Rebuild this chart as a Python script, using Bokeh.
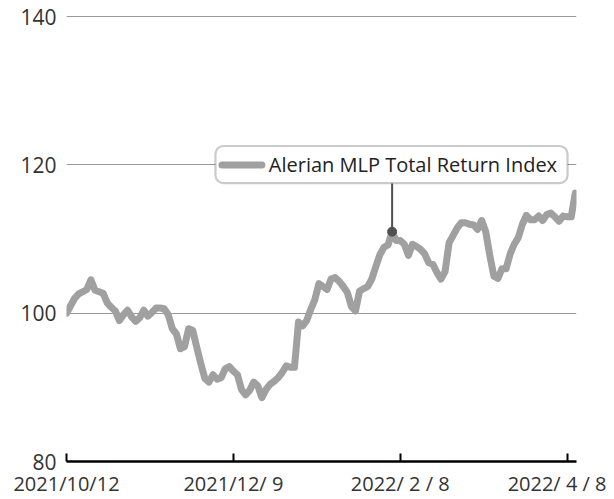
from bokeh.plotting import figure
from bokeh.models import FixedTicker, BoxAnnotation, Label, Range1d
from bokeh.embed import file_html
from bokeh.resources import INLINE

# ---- data ----
series_name = "Alerian MLP Total Return Index"
values = [
    100.0, 101.0, 102.0, 102.6, 102.9, 103.2, 104.5, 103.1, 102.9, 102.7,
    101.4, 100.8, 100.3, 99.0, 99.8, 100.4, 99.5, 98.9, 99.4, 100.4,
    99.6, 100.1, 100.7, 100.7, 100.6, 99.8, 97.9, 97.2, 95.2, 95.5,
    97.9, 97.7, 95.4, 93.2, 91.2, 90.7, 91.7, 91.1, 91.3, 92.5,
    92.8, 92.2, 91.7, 89.7, 89.0, 89.6, 90.7, 90.2, 88.6, 89.7,
    90.4, 90.8, 91.3, 92.0, 92.9, 92.7, 92.7, 98.8, 98.3, 99.0,
    100.5, 101.8, 104.0, 103.6, 103.2, 104.6, 104.8, 104.3, 103.6, 102.8,
    100.9, 100.3, 103.0, 103.3, 103.6, 104.6, 106.3, 107.9, 108.9, 109.2,
    111.0, 109.8, 109.8, 109.3, 107.8, 109.3, 109.0, 108.6, 108.0, 106.8,
    106.6, 105.5, 104.6, 105.6, 109.5, 110.5, 111.5, 112.2, 112.2, 112.0,
    111.9, 111.3, 112.5, 111.0, 107.8, 105.0, 104.7, 106.0, 106.0, 108.0,
    109.3, 110.2, 112.0, 113.2, 112.6, 112.6, 113.1, 112.5, 113.3, 113.5,
    113.0, 112.4, 113.1, 113.0, 113.0, 116.2,
]
x_index = list(range(len(values)))
tick_index = [0, 41, 82, 123]
tick_labels = ["2021/10/12", "2021/12/ 9", "2022/ 2 / 8", "2022/ 4 / 8"]
y_ticks = [80, 100, 120, 140]
callout_index = 80

FONT = "Open Sans"
LINE_COLOR = "#a0a0a0"
TEXT_COLOR = "#333333"
BORDER = "#505050"

p = figure(width=606, height=499, output_backend="svg", toolbar_location=None,
           x_range=Range1d(0, 125.3), y_range=Range1d(80, 140.15),
           min_border_left=66, min_border_right=30, min_border_top=15,
           min_border_bottom=36)
p.outline_line_color = None
p.background_fill_color = "white"
p.border_fill_color = "white"

p.line(x_index, values, line_color=LINE_COLOR, line_width=7, line_join="round", line_cap="round")

# axes
xa = p.xaxis[0]
xa.ticker = FixedTicker(ticks=tick_index)
xa.major_label_overrides = {i: t for i, t in zip(tick_index, tick_labels)}
xa.axis_line_color = "black"
xa.axis_line_width = 2.5
xa.major_tick_line_color = "black"
xa.major_tick_line_width = 2
xa.major_tick_in = 8
xa.major_tick_out = 0
xa.minor_tick_line_color = None
xa.major_label_text_font = FONT
xa.major_label_text_font_size = "20px"
xa.major_label_text_color = TEXT_COLOR
xa.major_label_standoff = 8

ya = p.yaxis[0]
ya.ticker = FixedTicker(ticks=y_ticks)
ya.axis_line_color = None
ya.major_tick_line_color = None
ya.minor_tick_line_color = None
ya.major_tick_in = 0
ya.major_tick_out = 0
ya.major_label_text_font = FONT
ya.major_label_text_font_size = "21px"
ya.major_label_text_color = TEXT_COLOR
ya.major_label_standoff = 10

p.xgrid.grid_line_color = None
p.ygrid.ticker = FixedTicker(ticks=y_ticks[1:])
p.ygrid.grid_line_color = "#999999"
p.ygrid.grid_line_width = 1

# callout
cy = values[callout_index]
box_bottom = 117.54
p.segment(x0=[callout_index], y0=[cy], x1=[callout_index], y1=[box_bottom],
          line_color=BORDER, line_width=2)
p.scatter(x=[callout_index], y=[cy], size=9, color=BORDER)

box = BoxAnnotation(left=36.6, right=123.1, bottom=box_bottom, top=122.55,
                    fill_color="white", fill_alpha=1.0, line_color=BORDER,
                    line_width=2.2, border_radius=8)
p.add_layout(box)

sw = p.segment(x0=[38.2], y0=[120.0], x1=[48.0], y1=[120.0], line_color=LINE_COLOR,
               line_width=7, line_cap="round")
sw.level = "overlay"

lab = Label(x=49.7, y=120.0, text=series_name, text_font=FONT, text_font_size="20px",
            text_color="#222222", text_baseline="middle", text_align="left")
p.add_layout(lab)

open("out.html", "w").write(file_html(p, INLINE))
